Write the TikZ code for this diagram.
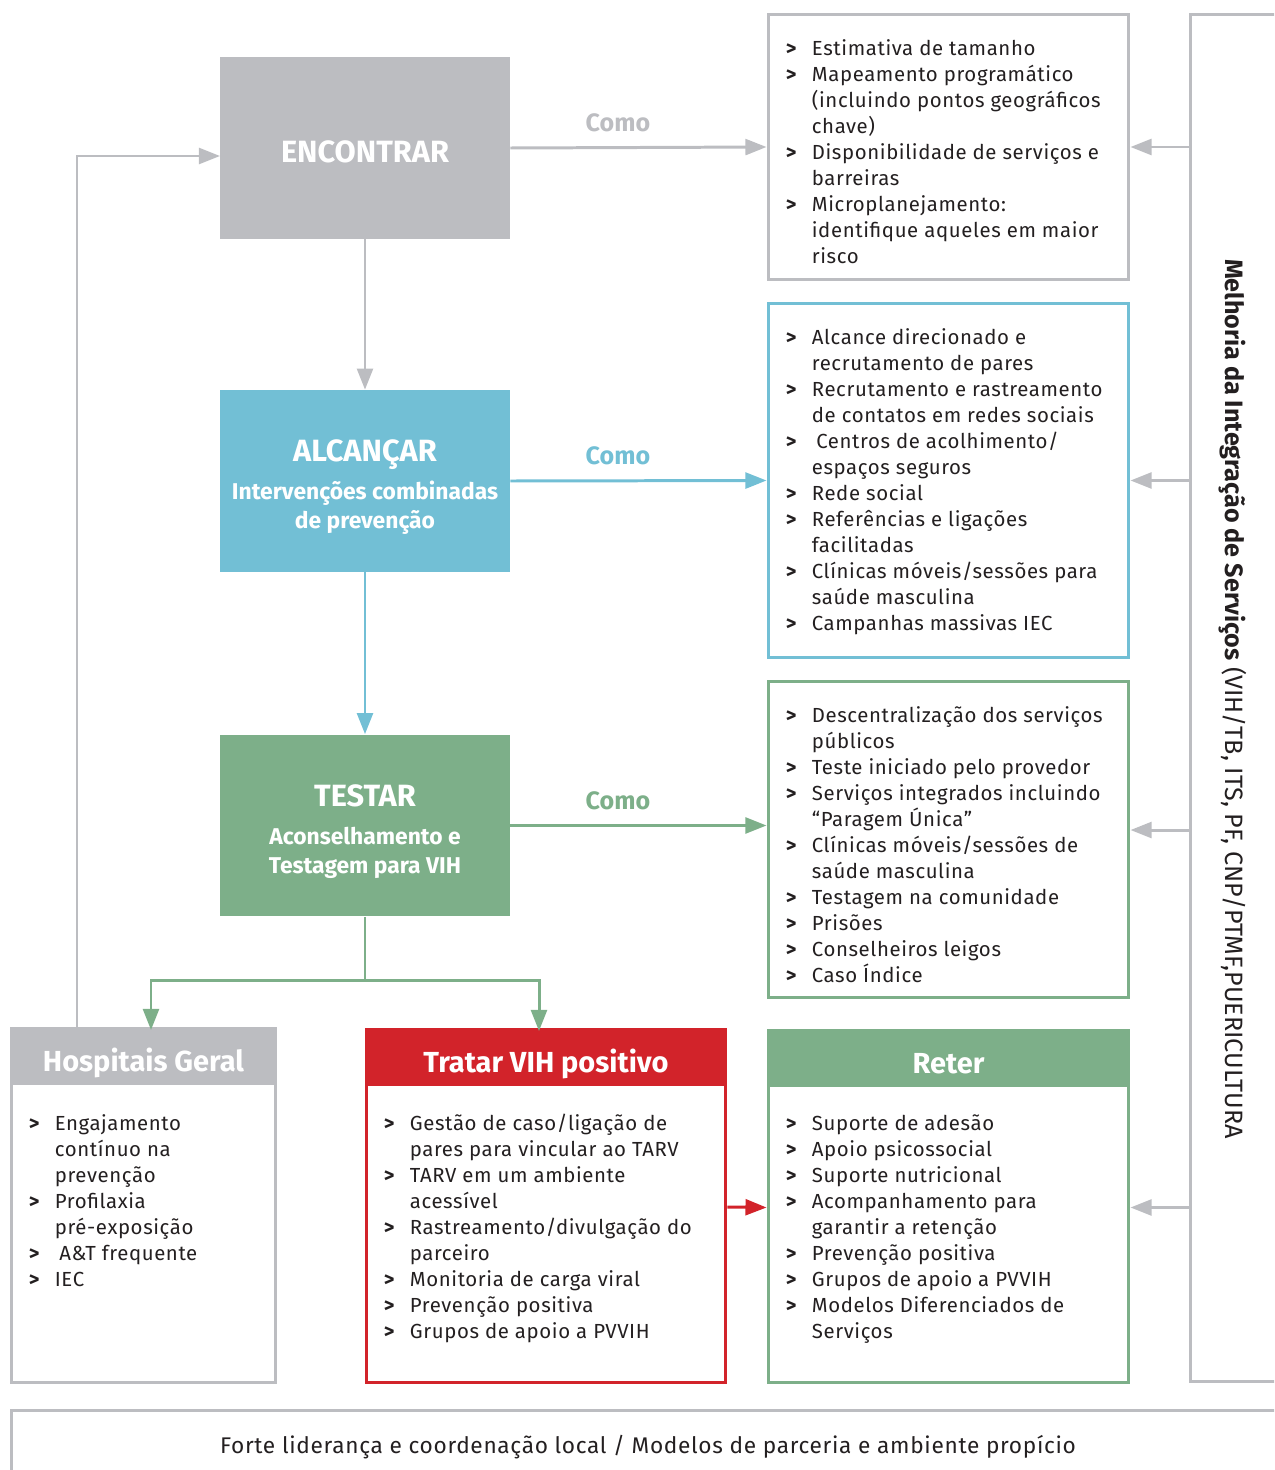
\documentclass[tikz,border=0pt]{standalone}
\usepackage{fontspec}
\setmainfont{Fira Sans}[LetterSpace=3]
\newfontfamily\titulofont{Fira Sans}
\usetikzlibrary{arrows.meta}

\definecolor{cinza}{HTML}{BCBDC1}
\definecolor{azul}{HTML}{72BFD5}
\definecolor{verde}{HTML}{7DAF89}
\definecolor{vermelho}{HTML}{D2232A}
\definecolor{texto}{HTML}{231F20}

\newcommand{\sub}{\fontsize{13}{16.5}\selectfont}
\newcommand{\gt}{\textbf{>}}

\tikzstyle{etapa} = [rectangle, inner sep=0pt, minimum width=5.8cm,
                 minimum height=3.64cm]
\tikzstyle{etapatexto} = [inner sep=0pt, text=white, align=center,
                 font=\titulofont\bfseries\fontsize{17.5}{16.5}\selectfont]
\tikzstyle{caixa} = [rectangle, inner sep=0pt, line width=1.7pt]
\tikzstyle{cabeca} = [rectangle, inner sep=0pt, minimum height=1.16cm,
                 text height=17.5pt, text depth=0pt, text=white,
                 font=\titulofont\bfseries\fontsize{16.5}{18}\selectfont]
\tikzstyle{lista} = [anchor=north west, inner sep=0pt, text=texto,
                 font=\fontsize{11.6}{14.8}\selectfont]
\tikzstyle{seta} = [-{Triangle[length=12pt,width=9pt]}, line width=1.7pt]
\tikzstyle{como} = [above=8pt, inner sep=0pt, pos=0.42,
                 font=\titulofont\bfseries\fontsize{14.3}{16}\selectfont]

\begin{document}
\begin{tikzpicture}[x=0.02cm, y=-0.02cm]
\useasboundingbox (0,0) rectangle (1274,1470);
\clip (0,0) rectangle (1274,1470);

% etapas
\node [etapa, fill=cinza] (encontrar) at (365,148) {};
\node [etapa, fill=azul] (alcancar) at (365,481) {};
\node [etapa, fill=verde] (testar) at (365,825.5) {};
\node [etapatexto] (encontrartexto) at ([yshift=-2.3pt]encontrar) {ENCONTRAR};
\node [etapatexto] (alcancartexto) at ([yshift=-3.4pt]alcancar)
    {ALCANÇAR\\[5pt]\sub Intervenções combinadas\\\sub de prevenção};
\node [etapatexto] (testartexto) at ([yshift=-3.4pt]testar)
    {TESTAR\\[5pt]\sub Aconselhamento e\\\sub Testagem para VIH};

% caixas do como
\node [caixa, draw=cinza, minimum width=7.22cm, minimum height=5.32cm] (como1) at (948.5,147) {};
\node [caixa, draw=azul, minimum width=7.22cm, minimum height=7.1cm] (como2) at (948.5,480.5) {};
\node [caixa, draw=verde, minimum width=7.22cm, minimum height=6.34cm] (como3) at (948.5,839.5) {};

% caixas de baixo
\node [caixa, draw=cinza, minimum width=5.3cm, minimum height=7.06cm] (hosp) at (143.5,1206.5) {};
\node [caixa, draw=vermelho, minimum width=7.2cm, minimum height=7.04cm] (tratar) at (546,1207) {};
\node [caixa, draw=verde, minimum width=7.22cm, minimum height=7.02cm] (reter) at (948.5,1207.5) {};
\node [cabeca, fill=cinza, minimum width=5.36cm, anchor=north] (hosptitulo)
    at ([yshift=0.85pt]hosp.north) {Hospitais Geral};
\node [cabeca, fill=vermelho, minimum width=7.26cm, anchor=north] (tratartitulo)
    at ([yshift=0.85pt]tratar.north) {Tratar VIH positivo};
\node [cabeca, fill=verde, minimum width=7.28cm, anchor=north] (retertitulo)
    at ([yshift=0.85pt]reter.north) {Reter};

% integracao e base
\node [caixa, draw=cinza, minimum width=1.8cm, minimum height=27.36cm] (integra) at (1235,698) {};
\node [rotate=-90, inner sep=0pt, text=texto, font=\titulofont\fontsize{14.3}{16}\selectfont] (integratexto)
    at (1233,699) {\textbf{Melhoria da Integração de Serviços} (VIH/TB, ITS, PF, CNP/PTMF,PUERICULTURA};
\node [caixa, draw=cinza, minimum width=25.48cm, minimum height=1.48cm, text=texto,
    font=\fontsize{12.9}{14}\selectfont] (base) at (648,1447)
    {Forte liderança e coordenação local / Modelos de parceria e ambiente propício};

% listas
\node [lista] (lista1) at ([shift={(19,24)}]como1.north west) {\begin{tabular}{@{}p{14.8pt}@{}l@{}}
\gt & Estimativa de tamanho\\
\gt & Mapeamento programático\\
    & (incluindo pontos geográficos\\
    & chave)\\
\gt & Disponibilidade de serviços e\\
    & barreiras\\
\gt & Microplanejamento:\\
    & identifique aqueles em maior\\
    & risco
\end{tabular}};
\node [lista] (lista2) at ([shift={(19,24)}]como2.north west) {\begin{tabular}{@{}p{14.8pt}@{}l@{}}
\gt & Alcance direcionado e\\
    & recrutamento de pares\\
\gt & Recrutamento e rastreamento\\
    & de contatos em redes sociais\\
\gt & \hspace{2.5pt}Centros de acolhimento/\\
    & espaços seguros\\
\gt & Rede social\\
\gt & Referências e ligações\\
    & facilitadas\\
\gt & Clínicas móveis/sessões para\\
    & saúde masculina\\
\gt & Campanhas massivas IEC
\end{tabular}};
\node [lista] (lista3) at ([shift={(19,24)}]como3.north west) {\begin{tabular}{@{}p{14.8pt}@{}l@{}}
\gt & Descentralização dos serviços\\
    & públicos\\
\gt & Teste iniciado pelo provedor\\
\gt & Serviços integrados incluindo\\
    & “Paragem Única”\\
\gt & Clínicas móveis/sessões de\\
    & saúde masculina\\
\gt & Testagem na comunidade\\
\gt & Prisões\\
\gt & Conselheiros leigos\\
\gt & Caso Índice
\end{tabular}};
\node [lista] (lista4) at ([shift={(19,83)}]hosp.north west) {\begin{tabular}{@{}p{14.8pt}@{}l@{}}
\gt & Engajamento\\
    & contínuo na\\
    & prevenção\\
\gt & Profilaxia\\
    & pré-exposição\\
\gt & \hspace{2.5pt}A\&T frequente\\
\gt & IEC
\end{tabular}};
\node [lista] (lista5) at ([shift={(19,82)}]tratar.north west) {\begin{tabular}{@{}p{14.8pt}@{}l@{}}
\gt & Gestão de caso/ligação de\\
    & pares para vincular ao TARV\\
\gt & TARV em um ambiente\\
    & acessível\\
\gt & Rastreamento/divulgação do\\
    & parceiro\\
\gt & Monitoria de carga viral\\
\gt & Prevenção positiva\\
\gt & Grupos de apoio a PVVIH
\end{tabular}};
\node [lista] (lista6) at ([shift={(19,81)}]reter.north west) {\begin{tabular}{@{}p{14.8pt}@{}l@{}}
\gt & Suporte de adesão\\
\gt & Apoio psicossocial\\
\gt & Suporte nutricional\\
\gt & Acompanhamento para\\
    & garantir a retenção\\
\gt & Prevenção positiva\\
\gt & Grupos de apoio a PVVIH\\
\gt & Modelos Diferenciados de\\
    & Serviços
\end{tabular}};

% setas
\draw [seta, cinza] (encontrar) -- (alcancar);
\draw [seta, azul] (alcancar) -- (testar);
\draw [seta, cinza] (encontrar.east) -- (como1.west) node [como] {Como};
\draw [seta, azul] (alcancar.east) -- (como2.west) node [como] {Como};
\draw [seta, verde] (testar.east) -- (testar.east -| como3.west) node [como] {Como};

\path (testar.south) ++(0,64) coordinate (divisao);
\coordinate (hospin) at (151,1030);
\coordinate (tratin) at (539,1031);
\draw [verde, line width=1.7pt] (testar.south) -- (divisao);
\draw [seta, verde] (divisao) -| (hospin);
\draw [seta, verde] (divisao) -| (tratin);

\coordinate (hospout) at (77,1030);
\coordinate (encin) at (220,156);
\draw [seta, cinza] (hospout) |- (encin);

\draw [seta, vermelho] (tratar.east) -- (reter.west);

\coordinate (como3e) at ([yshift=5.4pt]como3.east);
\draw [seta, cinza] (integra.west |- como1.east) -- (como1.east);
\draw [seta, cinza] (integra.west |- como2.east) -- (como2.east);
\draw [seta, cinza] (integra.west |- como3e) -- (como3e);
\draw [seta, cinza] (integra.west |- reter.east) -- (reter.east);

\end{tikzpicture}
\end{document}
